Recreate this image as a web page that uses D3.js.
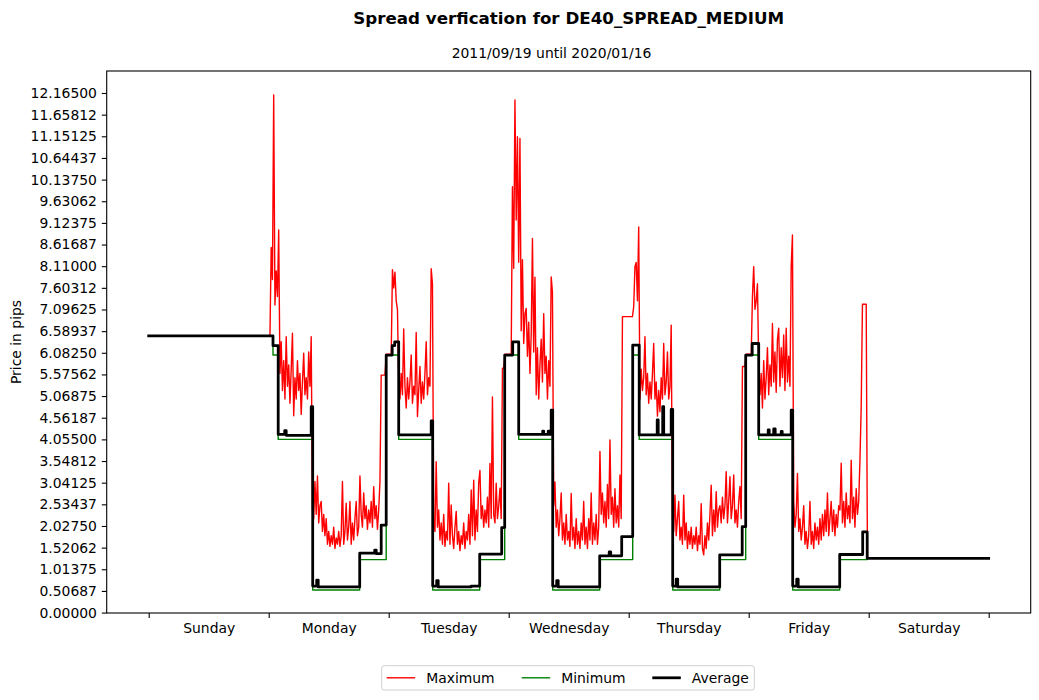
<!DOCTYPE html>
<html><head><meta charset="utf-8">
<script src="https://cdn.jsdelivr.net/npm/d3@7"></script>
<style>body{margin:0;background:#fff;} text{font-family:"DejaVu Sans",sans-serif;fill:#000;}</style>
</head><body><svg id="chart" width="1039" height="700"></svg>
<script>
// ---------- data ----------
const dayLabels = ["Sunday","Monday","Tuesday","Wednesday","Thursday","Friday","Saturday"];
const dayBoundaryHours = [0,24,48,72,96,120,144,168];
const dayLabelHours = [12,36,60,84,108,132,156];
const yTickLabels = ["0.00000","0.50687","1.01375","1.52062","2.02750","2.53437","3.04125","3.54812","4.05500","4.56187","5.06875","5.57562","6.08250","6.58937","7.09625","7.60312","8.11000","8.61687","9.12375","9.63062","10.13750","10.64437","11.15125","11.65812","12.16500"];

// Maximum: Sunday flat value, then 15-minute samples for Mon..Fri (each day starts at 00:00), then Saturday end
const maxSunday = [[0, 6.48]];
const maxStepHours = 0.25;
const maxMon = [6.48,6.48,8.55,7.8,12.12,7.2,8.0,7.4,8.96,
 5.6,6.34,5.2,5.9,5.0,6.46,5.3,5.8,4.9,5.7,6.54,4.61,5.5,5.0,5.9,5.2,5.6,4.64,5.4,6.07,5.1,5.5,5.0,6.1,5.3,6.46,
 2.4,2.2,3.07,2.3,3.2,2.1,2.5,2.6,1.9,2.3,1.8,2.2,1.6,1.9,1.55,1.8,1.6,2.0,1.5,1.75,1.6,1.9,1.55,1.8,3.07,1.6,1.9,2.56,1.7,2.0,2.6,1.6,2.1,1.7,2.2,2.6,1.8,2.0,
 3.2,2.3,2.0,2.8,2.2,2.5,1.95,2.4,2.1,2.6,2.0,2.95,2.2,2.5,1.95,2.4,3.06,
 5.56,5.56,5.56,5.56,6.05,6.05];
const maxTue = [6.05,6.05,6.05,8.03,7.6,7.97,7.3,7.1,
 5.4,5.0,5.6,5.1,6.64,5.3,4.79,5.5,5.0,5.4,6.03,4.9,5.3,5.1,6.56,4.59,5.2,5.76,4.9,5.4,5.0,5.6,6.34,5.1,5.5,5.3,8.05,7.7,
 2.2,1.9,3.53,2.0,2.4,1.7,2.1,1.6,2.3,1.55,1.9,1.7,3.03,1.6,2.52,1.8,1.5,2.0,2.37,1.6,1.9,1.45,1.8,1.6,2.1,1.5,1.9,1.7,2.3,1.6,2.87,1.8,3.1,1.7,2.4,1.9,3.03,
 3.33,2.2,2.5,2.0,2.4,2.1,2.7,2.0,3.49,2.2,5.05,2.3,2.1,3.03,2.2,2.5,2.91,2.2,
 5.72,5.72,6.05,6.05,6.05];
const maxWed = [6.05,6.05,6.05,9.97,8.06,12.0,9.19,11.14,8.2,11.1,6.6,
 8.26,6.3,7.0,7.12,6.0,6.8,5.6,6.5,8.76,6.1,7.85,5.1,6.2,5.0,5.8,6.4,5.4,7.0,5.6,6.0,5.0,5.9,5.3,7.86,7.5,
 2.5,3.06,2.0,2.4,1.8,2.2,2.8,1.7,2.1,1.6,2.3,1.7,1.9,1.55,2.79,1.7,2.0,1.5,2.2,1.6,1.9,1.5,2.1,1.7,2.6,1.6,2.0,1.5,2.2,1.7,2.8,1.6,2.1,1.7,2.3,1.6,2.0,
 3.77,2.3,2.8,2.1,2.6,2.0,3.0,2.2,4.04,2.3,2.7,2.0,2.9,2.1,2.5,2.0,3.22,2.2,
 6.93,6.93,6.93,6.93,6.93];
const maxThu = [6.93,6.93,6.93,6.93,7.16,8.1,8.2,7.3,9.03,
 5.0,5.7,5.2,5.5,6.46,5.1,5.6,4.9,5.4,5.0,5.6,6.3,5.0,5.4,4.6,5.2,4.7,5.5,5.0,6.3,5.1,5.4,6.1,5.0,5.3,6.73,
 2.2,1.9,2.75,1.8,2.2,2.6,1.7,2.0,1.6,2.75,1.7,2.1,1.5,1.9,1.6,2.0,1.5,1.8,1.6,2.0,1.45,1.8,1.6,2.55,1.5,1.35,1.8,1.5,2.1,1.7,2.3,2.98,1.8,2.4,1.9,2.83,2.0,2.4,
 2.5,2.1,2.7,2.2,2.5,3.3,2.1,2.6,3.18,2.2,2.5,3.22,2.1,2.4,2.0,2.6,2.95,2.2,
 5.76,5.76,5.76,6.05,6.05];
const maxFri = [6.05,6.05,6.05,7.4,8.1,7.1,7.3,7.7,
 5.8,5.1,5.6,4.79,5.9,5.0,5.5,6.2,5.1,5.8,5.3,6.77,5.4,6.1,5.16,6.4,6.66,5.3,6.2,5.5,6.5,5.2,6.66,5.4,6.0,5.3,8.1,8.84,
 2.6,2.0,2.3,3.26,1.9,2.2,1.7,2.0,2.5,1.6,1.9,1.5,1.8,2.6,1.6,1.9,1.5,2.1,1.7,2.0,1.6,2.2,1.7,2.3,1.8,2.4,1.9,2.8,1.8,2.2,2.6,1.9,2.4,1.8,2.3,2.0,2.5,
 2.4,3.5,2.1,2.6,2.0,2.8,2.2,2.5,2.1,3.57,2.2,2.7,2.0,2.9,2.3,2.6,3.57,4.82,
 7.22,7.22,7.22,7.22,1.27];
const maxSaturday = [[168, 1.27]];

// Minimum: [hour, value] steps
const minSteps = [[0,6.48],[24.86,6.03],[25.9,4.055],[32.8,0.53],[42.2,1.24],[47.5,6.03],[50.0,4.055],[56.8,0.53],[66.2,1.24],[71.2,6.03],[74.0,4.055],[80.8,0.53],[90.2,1.24],[96.8,6.03],[98.1,4.055],[104.8,0.53],[114.2,1.24],[119.4,6.03],[122.0,4.055],[128.8,0.53],[138.2,1.24],[143.7,1.27],[168,1.27]];

// Average: [hour, value] steps
const avgSteps = [[0,6.48],[24.86,6.25],[25.9,4.17],[27.2,4.26],[27.5,4.15],[32.5,4.82],[32.8,0.62],[33.6,0.76],[33.9,0.60],[42.2,1.39],[45.2,1.46],[45.5,1.38],[46.5,2.05],[47.5,6.03],
 [48.7,6.25],[49.2,6.34],[50.0,4.16],[56.5,4.49],[56.8,0.62],[57.6,0.75],[57.9,0.60],[64.5,0.62],[66.2,1.37],[70.6,1.99],[71.2,6.03],
 [72.8,6.34],[74.0,4.17],[78.8,4.25],[79.0,4.17],[79.9,4.25],[80.1,4.17],[80.5,4.74],[80.8,0.62],[81.6,0.75],[81.9,0.60],[90.2,1.33],[92.1,1.42],[92.4,1.33],[94.6,1.78],
 [96.8,6.26],[98.1,4.16],[101.7,4.51],[101.9,4.16],[102.8,4.82],[103.0,4.16],[104.5,4.76],[104.8,0.62],[105.5,0.78],[105.8,0.60],[114.2,1.35],[118.7,2.01],[119.4,6.03],
 [120.7,6.30],[122.0,4.16],[123.9,4.28],[124.1,4.16],[125.0,4.30],[125.3,4.16],[126.5,4.24],[126.7,4.16],[128.5,4.74],[128.8,0.62],[129.6,0.78],[129.9,0.60],[138.2,1.36],[142.8,1.89],[143.7,1.27],[168,1.27]];

const titleText = "Spread verfication for DE40_SPREAD_MEDIUM";
const subtitleText = "2011/09/19 until 2020/01/16";
const seriesNames = ["Maximum","Minimum","Average"];
const seriesColors = ["#ff0000","#008000","#000000"];
const seriesWidths = [1.4,1.4,2.78];

// ---------- layout ----------
const L = 106.7, R = 1030.7, T = 71, B = 613;
const svg = d3.select("#chart");
const x = d3.scaleLinear().domain([-8.4, 176.4]).range([L, R]);
const y = d3.scaleLinear().domain([-0.01, 12.68]).range([B, T]);

// build max series
const maxPoints = [].concat(maxSunday);
[maxMon, maxTue, maxWed, maxThu, maxFri].forEach((arr, di) => {
  const start = dayBoundaryHours[di + 1];
  arr.forEach((v, i) => maxPoints.push([start + i * maxStepHours, v]));
});
maxSaturday.forEach(p => maxPoints.push(p));

const lineLin = d3.line().x(d => x(d[0])).y(d => y(d[1]));
const lineStep = d3.line().x(d => x(d[0])).y(d => y(d[1])).curve(d3.curveStepAfter);

const g = svg.append("g");
g.append("path").datum(maxPoints).attr("d", lineLin).attr("fill","none")
  .attr("stroke", seriesColors[0]).attr("stroke-width", seriesWidths[0]).attr("stroke-linejoin","round");
g.append("path").datum(minSteps).attr("d", lineStep).attr("fill","none")
  .attr("stroke", seriesColors[1]).attr("stroke-width", seriesWidths[1]).attr("stroke-linejoin","round");
g.append("path").datum(avgSteps).attr("d", lineStep).attr("fill","none")
  .attr("stroke", seriesColors[2]).attr("stroke-width", seriesWidths[2]).attr("stroke-linejoin","round").attr("stroke-linecap","square");

// axes
const FS = "13.9px";
const yAxis = d3.axisLeft(y).tickValues(yTickLabels.map(Number))
  .tickFormat((d, i) => yTickLabels[i]).tickSize(4.9).tickPadding(4.9);
const ya = svg.append("g").attr("transform", `translate(${L},0)`).call(yAxis);
ya.select(".domain").remove();
ya.selectAll("text").style("font-size", FS).style("font-family", "DejaVu Sans");
ya.selectAll("line").attr("stroke-width", 1.1);

const xTickAxis = d3.axisBottom(x).tickValues(dayBoundaryHours).tickFormat("").tickSize(4.9);
const xa = svg.append("g").attr("transform", `translate(0,${B})`).call(xTickAxis);
xa.select(".domain").remove();
xa.selectAll("line").attr("stroke-width", 1.1);

const xLabelAxis = d3.axisBottom(x).tickValues(dayLabelHours)
  .tickFormat((d, i) => dayLabels[i]).tickSize(0).tickPadding(9.8);
const xl = svg.append("g").attr("transform", `translate(0,${B})`).call(xLabelAxis);
xl.select(".domain").remove();
xl.selectAll("text").style("font-size", FS).style("font-family", "DejaVu Sans");

// frame
svg.append("rect").attr("x", L).attr("y", T).attr("width", R - L).attr("height", B - T)
  .attr("fill", "none").attr("stroke", "#000").attr("stroke-width", 1.1);

// titles
svg.append("text").attr("x", (L + R) / 2).attr("y", 24).attr("text-anchor", "middle")
  .style("font-size", "16.7px").style("font-weight", "bold").text(titleText);
svg.append("text").attr("x", 551.5).attr("y", 58).attr("text-anchor", "middle")
  .style("font-size", FS).text(subtitleText);
svg.append("text").attr("transform", `translate(16,${(T + B) / 2}) rotate(-90)`)
  .attr("text-anchor", "middle").attr("dy", "0.35em").style("font-size", FS).text("Price in pips");

// legend
const lg = svg.append("g");
lg.append("rect").attr("x", 381.7).attr("y", 665.7).attr("width", 372.6).attr("height", 24.3)
  .attr("rx", 2.5).attr("fill", "#fff").attr("stroke", "#d0d0d0").attr("stroke-width", 1);
const legX = [386.7, 521.7, 652.3];
seriesNames.forEach((name, i) => {
  lg.append("line").attr("x1", legX[i]).attr("x2", legX[i] + 28.5).attr("y1", 677.8).attr("y2", 677.8)
    .attr("stroke", seriesColors[i]).attr("stroke-width", seriesWidths[i]);
  lg.append("text").attr("x", legX[i] + 39.5).attr("y", 677.8).attr("dy", "0.35em")
    .style("font-size", FS).text(name);
});
</script></body></html>
